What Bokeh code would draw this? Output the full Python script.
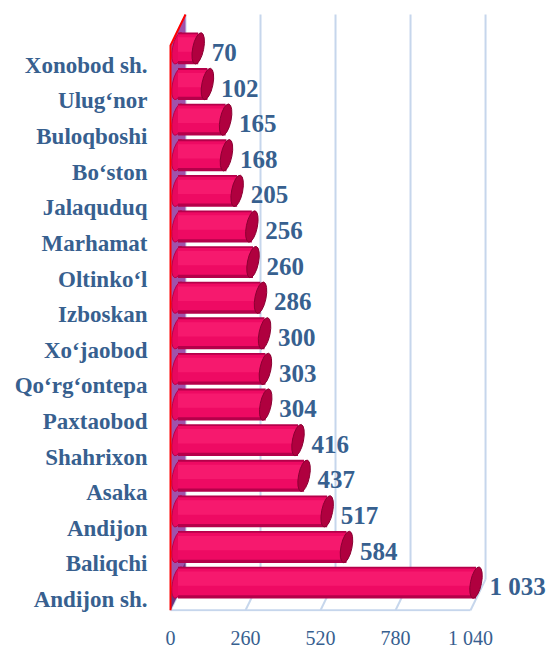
from bokeh.plotting import figure
from bokeh.models import Range1d, FixedTicker, ColumnDataSource
from bokeh.transform import dodge
from bokeh.core.properties import value
from bokeh.embed import file_html
from bokeh.resources import INLINE

# ---- data (top to bottom in the reference) ----
districts = ["Xonobod sh.", "Ulug\u2018nor", "Buloqboshi", "Bo\u2018ston", "Jalaquduq",
             "Marhamat", "Oltinko\u2018l", "Izboskan", "Xo\u2018jaobod", "Qo\u2018rg\u2018ontepa",
             "Paxtaobod", "Shahrixon", "Asaka", "Andijon", "Baliqchi", "Andijon sh."]
counts = [70, 102, 165, 168, 205, 256, 260, 286, 300, 303, 304, 416, 437, 517, 584, 1033]
x_ticks = [0, 260, 520, 780, 1040]
x_tick_labels = ["0", "260", "520", "780", "1 040"]

# ---- geometry (pixel based styling constants) ----
FIG_W, FIG_H = 558, 651
ML, MB = 155, 38
FRAME_W, FRAME_H = FIG_W - ML, FIG_H - MB
UX = 0.2885          # px per value unit
UY = 35.73           # px per row
ZERO_X = 170         # figure px of value 0
ZERO_Y = 601         # figure px of bottom row centre

x0 = -(ZERO_X - ML) / UX
x1 = x0 + FRAME_W / UX
y0 = -(FRAME_H - ZERO_Y) / UY
y1 = y0 + FRAME_H / UY

DX = 15 / UX         # depth in value units
DY = 31 / UY         # depth in row units
BAR_SX = 7.5 / UX
BAR_SY = 17 / UY
BAR_H = 32 / UY
CAP_W = 11 / UX

TXT = "#37608f"
FONT = "Times New Roman, Liberation Serif, DejaVu Serif, serif"

n = len(districts)
idx = [n - 1 - i for i in range(n)]   # bottom row = 0

p = figure(width=FIG_W, height=FIG_H, output_backend="svg", toolbar_location=None,
           x_range=Range1d(x0, x1), y_range=Range1d(y0, y1),
           min_border_left=ML, min_border_right=0, min_border_top=0, min_border_bottom=MB)
p.outline_line_color = None
p.grid.visible = False
p.background_fill_color = "white"

floor_front = y0 + 1.2 / UY
floor_back = floor_front + DY
top_front = (ZERO_Y - 45) / UY
top_back = top_front + DY

# back wall grid lines
p.segment(x0=[t + DX for t in x_ticks], y0=[floor_back] * len(x_ticks),
          x1=[t + DX for t in x_ticks], y1=[top_back] * len(x_ticks),
          line_color="#c6d6ec", line_width=2)
# floor
p.segment(x0=x_ticks, y0=[floor_front] * len(x_ticks),
          x1=[t + DX for t in x_ticks], y1=[floor_back] * len(x_ticks),
          line_color="#c6d6ec", line_width=2)
p.segment(x0=[x_ticks[0]], y0=[floor_front], x1=[x_ticks[-1]], y1=[floor_front],
          line_color="#c6d6ec", line_width=2)

# side wall
p.patch(x=[0, 0, DX, DX], y=[floor_front, top_front, top_back, floor_back],
        fill_color="#a052aa", line_color=None)
p.patch(x=[0, 0, DX, DX], y=[floor_front, floor_front + 0.5, floor_back + 0.5, floor_back],
        fill_color="#4a2060", fill_alpha=0.6, line_color=None)

src = ColumnDataSource(dict(
    y=idx, v=counts,
    xl=[BAR_SX] * n,
    xc=[c / 2 + BAR_SX for c in counts],
    w=counts,
    xe=[c + BAR_SX for c in counts],
    lab=[f"{c:,}".replace(",", " ") for c in counts],
))

yb = dodge("y", BAR_SY, range=p.y_range)
# back (left) rounded end
p.ellipse(x="xl", y=yb, width=CAP_W, height=BAR_H, angle=-0.2, source=src,
          fill_color="#e8085e", line_color="#b8004a", line_width=1)
# body layers
p.rect(x="xc", y=yb, width="w", height=BAR_H, source=src,
       fill_color="#b5004a", line_color=None)
p.rect(x="xc", y=dodge("y", BAR_SY + 0.02, range=p.y_range), width="w", height=BAR_H * 0.84,
       source=src, fill_color="#ee0a63", line_color=None)
p.rect(x="xc", y=dodge("y", BAR_SY + 0.11, range=p.y_range), width="w", height=BAR_H * 0.45,
       source=src, fill_color="#ff2c7c", fill_alpha=0.45, line_color=None)
# front end cap
p.ellipse(x="xe", y=yb, width=CAP_W, height=BAR_H, angle=-0.2, source=src,
          fill_color="#b0003f", line_color="#8a0032", line_width=1)

# value labels
p.text(x="v", y=dodge("y", 0.36, range=p.y_range), text="lab", source=src,
       x_offset=21, text_align="left", text_baseline="alphabetic",
       text_font=value(FONT), text_font_size="25px", text_font_style="bold", text_color=TXT)

# red axis edges
p.line(x=[0, 0, DX], y=[floor_front, top_front, top_back], line_color="#ff0000", line_width=2)

# axes
p.xaxis.ticker = FixedTicker(ticks=x_ticks)
p.xaxis.major_label_overrides = {t: l for t, l in zip(x_ticks, x_tick_labels)}
p.xaxis.axis_line_color = None
p.xaxis.major_tick_line_color = None
p.xaxis.minor_tick_line_color = None
p.xaxis.major_tick_out = 0
p.xaxis.major_tick_in = 0
p.xaxis.axis_label_standoff = 0
p.xaxis.major_label_standoff = 15
p.xaxis.major_label_text_font = FONT
p.xaxis.major_label_text_font_size = "20px"
p.xaxis.major_label_text_color = TXT

p.yaxis.ticker = FixedTicker(ticks=idx)
p.yaxis.major_label_overrides = {i: d for i, d in zip(idx, districts)}
p.yaxis.axis_line_color = None
p.yaxis.major_tick_line_color = None
p.yaxis.minor_tick_line_color = None
p.yaxis.major_tick_out = 0
p.yaxis.major_label_standoff = 8
p.yaxis.major_label_text_font = FONT
p.yaxis.major_label_text_font_size = "23px"
p.yaxis.major_label_text_font_style = "bold"
p.yaxis.major_label_text_color = TXT

open("out.html", "w").write(file_html(p, INLINE))
